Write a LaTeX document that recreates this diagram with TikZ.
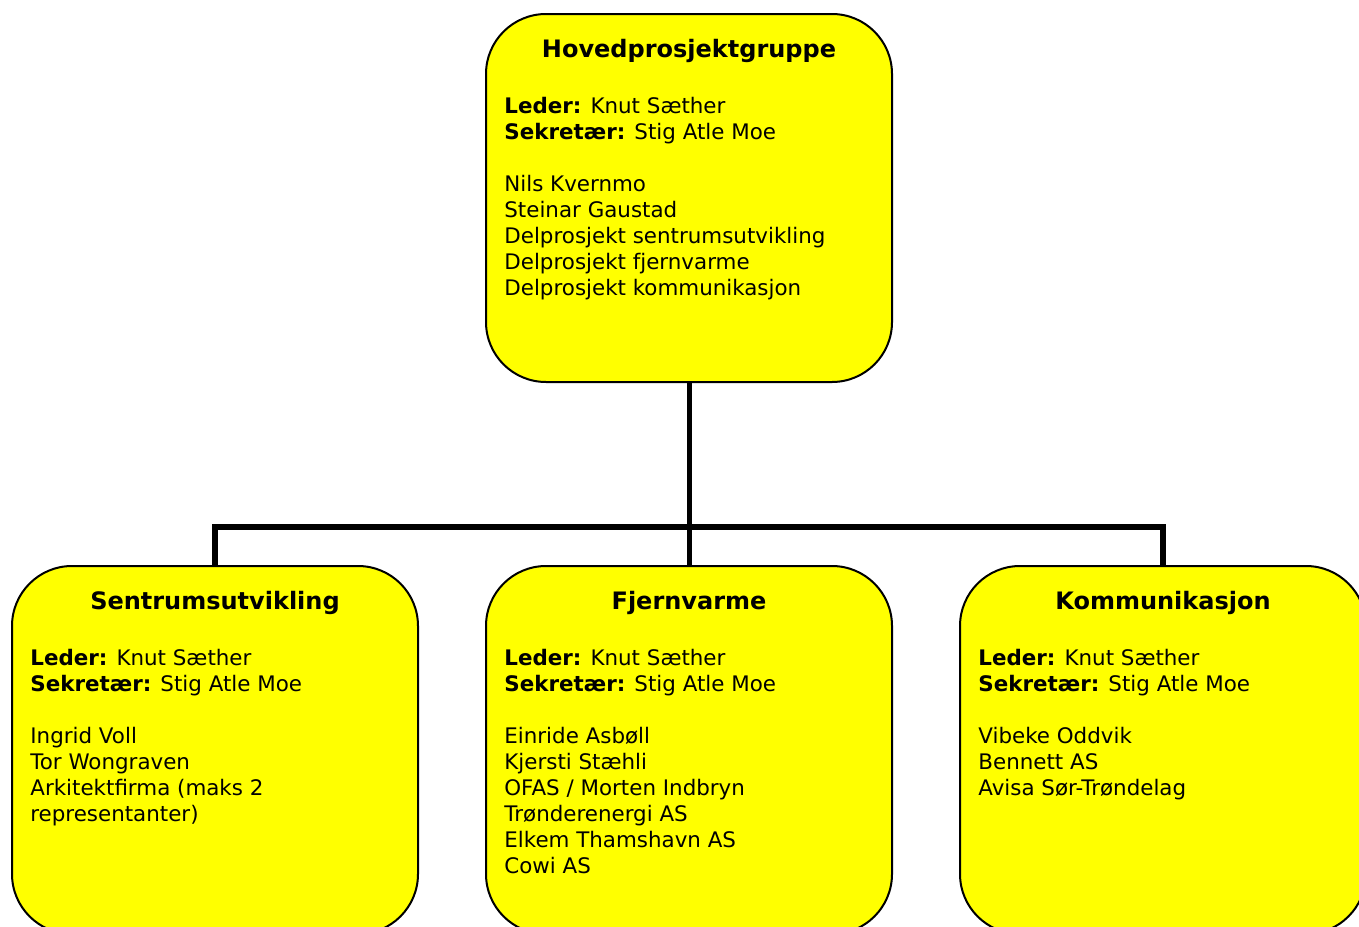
\documentclass[tikz,border=0pt]{standalone}
\usepackage{fontspec}
\setmainfont{DejaVu Sans}
\usetikzlibrary{positioning}
\definecolor{gul}{RGB}{255,255,0}

\begin{document}
\begin{tikzpicture}[x=0.5pt, y=-0.5pt,
    gruppe/.style={rectangle, rounded corners=30pt, minimum width=203pt, minimum height=184pt, draw=black, line width=1pt, fill=gul, inner sep=0pt},
    tittel/.style={anchor=center, font=\fontsize{12}{14}\selectfont\bfseries, inner sep=0pt},
    liste/.style={anchor=north west, align=left, font=\fontsize{10.7}{13}\selectfont, inner sep=0pt},
    linje/.style={line width=2.5pt}]
            \useasboundingbox (0,0) rectangle (1359,926);
            \clip (0,0) rectangle (1359,926);
            \node [gruppe] (hoved) at (689,198) {};
            \node [gruppe, below=91pt of hoved] (fjern) {};
            \node [gruppe, left=33pt of fjern] (sentrum) {};
            \node [gruppe, right=33pt of fjern] (komm) {};
            \node [tittel, below=13pt of hoved.north] (hovedtittel) {Hovedprosjektgruppe};
            \node [liste, below right=42pt and 9.5pt of hoved.north west] (hovedliste) {\textbf{Leder:} Knut Sæther\\ \textbf{Sekretær:} Stig Atle Moe\\[13pt] Nils Kvernmo\\ Steinar Gaustad\\ Delprosjekt sentrumsutvikling\\ Delprosjekt fjernvarme\\ Delprosjekt kommunikasjon};
            \node [tittel, below=13pt of sentrum.north] (sentrumtittel) {Sentrumsutvikling};
            \node [liste, below right=42pt and 9.5pt of sentrum.north west] (sentrumliste) {\textbf{Leder:} Knut Sæther\\ \textbf{Sekretær:} Stig Atle Moe\\[13pt] Ingrid Voll\\ Tor Wongraven\\ Arkitektfirma (maks 2\\ representanter)};
            \node [tittel, below=13pt of fjern.north] (fjerntittel) {Fjernvarme};
            \node [liste, below right=42pt and 9.5pt of fjern.north west] (fjernliste) {\textbf{Leder:} Knut Sæther\\ \textbf{Sekretær:} Stig Atle Moe\\[13pt] Einride Asbøll\\ Kjersti Stæhli\\ OFAS / Morten Indbryn\\ Trønderenergi AS\\ Elkem Thamshavn AS\\ Cowi AS};
            \node [tittel, below=13pt of komm.north] (kommtittel) {Kommunikasjon};
            \node [liste, below right=42pt and 9.5pt of komm.north west] (kommliste) {\textbf{Leder:} Knut Sæther\\ \textbf{Sekretær:} Stig Atle Moe\\[13pt] Vibeke Oddvik\\ Bennett AS\\ Avisa Sør-Trøndelag};
            \coordinate (samling) at (689,527);
            \draw [linje] (hoved.south) -- (samling);
            \draw [linje] (samling) -- (fjern.north);
            \draw [linje, line width=3pt] (sentrum.north) |- (samling) -| (komm.north);
        \end{tikzpicture}
\end{document}
